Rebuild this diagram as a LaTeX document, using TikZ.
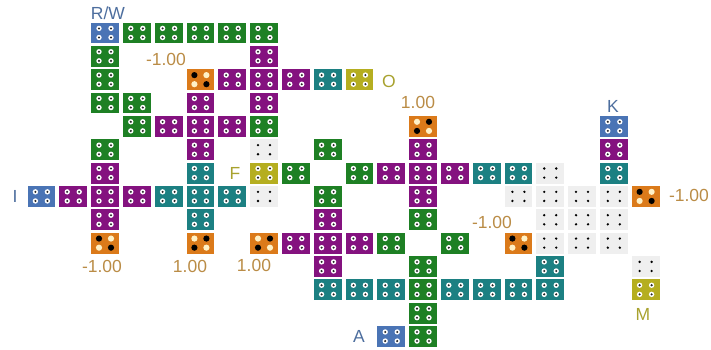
\documentclass[tikz,border=0pt]{standalone}
\usepackage{fontspec}
\setmainfont{Liberation Sans}
\definecolor{tblue}{HTML}{4A74B5}
\definecolor{tgreen}{HTML}{1E8024}
\definecolor{tpurple}{HTML}{84127F}
\definecolor{tteal}{HTML}{1C8082}
\definecolor{tolive}{HTML}{B5AE20}
\definecolor{torange}{HTML}{DB7A1A}
\definecolor{tgray}{HTML}{EFEFEF}
\definecolor{tcream}{HTML}{FFF1C6}
\definecolor{lblue}{HTML}{4D6E9E}
\definecolor{lolive}{HTML}{A8A22E}
\definecolor{lnum}{HTML}{BA8C46}
\newcommand{\tilexy}[2]{%
  \pgfmathsetmacro{\xl}{27.5+31.8*#1}%
  \pgfmathsetmacro{\yt}{22.5+23.35*#2}}
\newcommand{\ringtile}[3]{%
  \tilexy{#1}{#2}%
  \fill[#3] (\xl,\yt) rectangle ++(27.8,20.9);
  \foreach \dx in {7.9,19.9}{\foreach \dy in {5.9,15}{%
    \fill[white] (\xl+\dx,\yt+\dy) circle (2.7);
    \fill[black!85] (\xl+\dx,\yt+\dy) circle (1.15);}}}
\newcommand{\graytile}[2]{%
  \tilexy{#1}{#2}%
  \fill[tgray] (\xl,\yt) rectangle ++(27.8,20.9);
  \foreach \dx in {7.9,19.9}{\foreach \dy in {5.9,15}{%
    \fill[black] (\xl+\dx,\yt+\dy) circle (1.3);}}}
\newcommand{\orangetile}[4]{% col,row,colour TL/BR, colour TR/BL
  \tilexy{#1}{#2}%
  \fill[torange] (\xl,\yt) rectangle ++(27.8,20.9);
  \fill[#3] (\xl+7.9,\yt+5.9) circle (3.1);
  \fill[#3] (\xl+19.9,\yt+15) circle (3.1);
  \fill[#4] (\xl+19.9,\yt+5.9) circle (3.1);
  \fill[#4] (\xl+7.9,\yt+15) circle (3.1);}
\tikzset{lab/.style={inner sep=0pt,font=\fontsize{17.5}{20}\selectfont},
  lb/.style={lab,text=lblue}, lo/.style={lab,text=lolive}, ln/.style={lab,text=lnum}}
\begin{document}
\begin{tikzpicture}[x=1pt,y=-1pt]
\useasboundingbox (0,0) rectangle (711,349);
\foreach \c/\r in {2/0,0/7,18/4,11/13}{\ringtile{\c}{\r}{tblue}}
\foreach \c/\r in {3/0,4/0,5/0,6/0,7/0,2/1,2/2,2/3,3/3,3/4,7/4,2/5,9/5,8/6,10/6,9/7,12/8,11/9,13/9,12/10,12/11,12/12,12/13}{\ringtile{\c}{\r}{tgreen}}
\foreach \c/\r in {7/1,6/2,7/2,8/2,5/3,7/3,4/4,5/4,6/4,5/5,12/5,2/6,11/6,12/6,13/6,1/7,2/7,3/7,12/7,2/8,9/8,8/9,9/9,10/9,9/10,18/5}{\ringtile{\c}{\r}{tpurple}}
\foreach \c/\r in {9/2,5/6,14/6,15/6,18/6,4/7,5/7,6/7,5/8,9/11,10/11,11/11,13/11,14/11,15/11,16/11,16/10}{\ringtile{\c}{\r}{tteal}}
\foreach \c/\r in {10/2,7/6,19/11}{\ringtile{\c}{\r}{tolive}}
\foreach \c/\r in {7/5,16/6,7/7,15/7,16/7,17/7,18/7,16/8,17/8,18/8,16/9,17/9,18/9,19/10}{\graytile{\c}{\r}}
\foreach \c/\r in {5/2,2/9,19/7,15/9}{\orangetile{\c}{\r}{black}{tcream}}
\foreach \c/\r in {12/4,5/9,7/9}{\orangetile{\c}{\r}{tcream}{black}}
\node[lb] (lrw) at (108,13) {R/W};
\node[lb] (lk) at (613,106) {K};
\node[lb] (li) at (15,196.5) {I};
\node[lb] (la) at (359,336) {A};
\node[lo] (lo1) at (389,81) {O};
\node[lo] (lf) at (235,173) {F};
\node[lo] (lm) at (643,314) {M};
\node[ln] (n1) at (166,59) {-1.00};
\node[ln] (n2) at (418,102) {1.00};
\node[ln] (n3) at (689,195) {-1.00};
\node[ln] (n4) at (492,222) {-1.00};
\node[ln] (n5) at (102,266) {-1.00};
\node[ln] (n6) at (190,266) {1.00};
\node[ln] (n7) at (254,265) {1.00};
\end{tikzpicture}
\end{document}
